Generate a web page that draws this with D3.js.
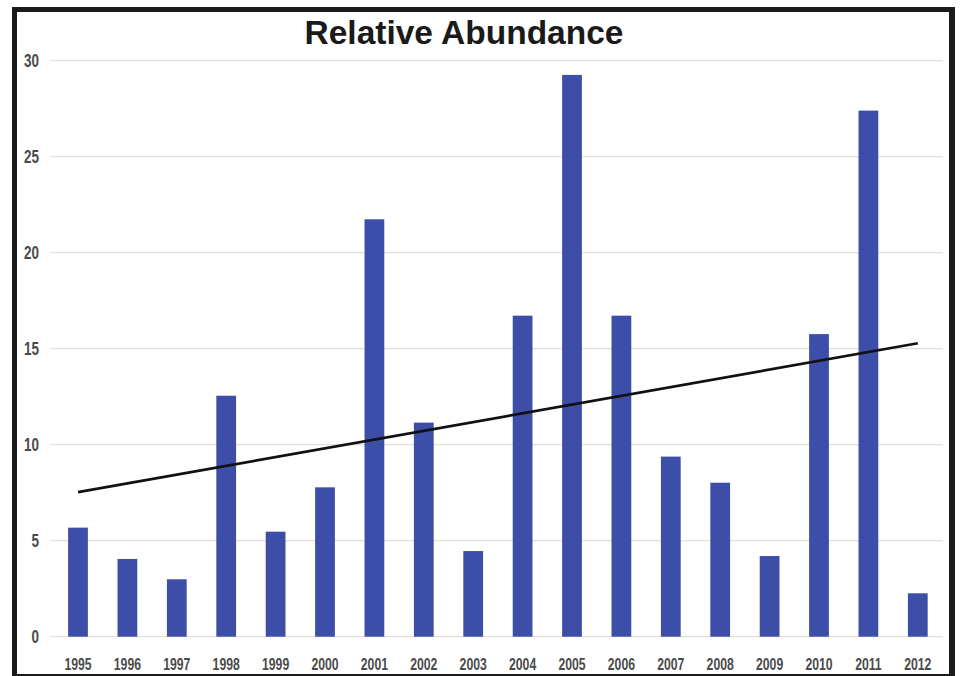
<!DOCTYPE html>
<html>
<head>
<meta charset="utf-8">
<script src="https://cdn.jsdelivr.net/npm/d3@7"></script>
<style>
  body { margin: 0; background: #fff; }
  svg { display: block; }
</style>
</head>
<body>
<div id="chart"></div>
<script>
// data
const years = ["1995", "1996", "1997", "1998", "1999", "2000", "2001", "2002", "2003",
  "2004", "2005", "2006", "2007", "2008", "2009", "2010", "2011", "2012"];
const abundance = [5.68, 4.05, 2.99, 12.55, 5.47, 7.78, 21.74, 11.15, 4.46,
  16.72, 29.26, 16.72, 9.38, 8.02, 4.2, 15.76, 27.4, 2.26];
const yTicks = [0, 5, 10, 15, 20, 25, 30];
// linear trend, value at first and last year
const trendYears = ["1995", "2012"];
const trendValues = [7.53, 15.28];

const width = 966, height = 676;
const labelFont = "'Liberation Sans', Arial, sans-serif";

const svg = d3.select("#chart")
  .append("svg")
  .attr("width", width)
  .attr("height", height);

const x = d3.scaleBand()
  .domain(years)
  .range([53.3, 942.5])
  .paddingInner(0.6)
  .paddingOuter(0.3);

const y = d3.scaleLinear()
  .domain([0, 30])
  .range([636.7, 60.7]);

// gridlines
svg.append("g")
  .selectAll("line")
  .data(yTicks)
  .enter()
  .append("line")
  .attr("x1", 50)
  .attr("x2", 943)
  .attr("y1", d => y(d))
  .attr("y2", d => y(d))
  .attr("stroke", "#e6dedb")
  .attr("stroke-width", 1.3);

// y axis labels (squeezed, like the original's condensed font)
const yAxis = d3.axisLeft(y).tickValues(yTicks).tickSize(0).tickPadding(0);
svg.append("g")
  .attr("transform", "translate(39,0)")
  .call(yAxis)
  .call(g => g.select(".domain").remove())
  .selectAll("text")
  .attr("font-family", labelFont)
  .attr("font-size", 18)
  .attr("font-weight", "bold")
  .attr("fill", "#4a4a4a")
  .attr("transform", "scale(0.75,1)");

// x axis labels
const xAxis = d3.axisBottom(x).tickSize(0).tickPadding(0);
svg.append("g")
  .attr("transform", "translate(0,658)")
  .call(xAxis)
  .call(g => g.select(".domain").remove())
  .selectAll("text")
  .attr("font-family", labelFont)
  .attr("font-size", 17)
  .attr("font-weight", "bold")
  .attr("fill", "#4a4a4a")
  .attr("transform", "scale(0.72,1)");

// bars
svg.append("g")
  .selectAll("rect")
  .data(years)
  .enter()
  .append("rect")
  .attr("x", d => x(d))
  .attr("width", x.bandwidth())
  .attr("y", (d, i) => y(abundance[i]))
  .attr("height", (d, i) => y(0) - y(abundance[i]))
  .attr("fill", "#3c4ea8");

// trend line
const line = d3.line()
  .x(d => x(d[0]) + x.bandwidth() / 2)
  .y(d => y(d[1]));
svg.append("path")
  .datum(trendYears.map((d, i) => [d, trendValues[i]]))
  .attr("d", line)
  .attr("fill", "none")
  .attr("stroke", "#111")
  .attr("stroke-width", 2.6);

// title
svg.append("text")
  .attr("x", 464)
  .attr("y", 44)
  .attr("text-anchor", "middle")
  .attr("font-family", "'Liberation Sans', Arial, sans-serif")
  .attr("font-size", 33.5)
  .attr("font-weight", "bold")
  .attr("fill", "#1a1a1a")
  .text("Relative Abundance");

// frame
svg.append("rect").attr("x", 12).attr("y", 7).attr("width", 943).attr("height", 5).attr("fill", "#1c1a1a");
svg.append("rect").attr("x", 12).attr("y", 7).attr("width", 5).attr("height", 669).attr("fill", "#1c1a1a");
svg.append("rect").attr("x", 949).attr("y", 7).attr("width", 6).attr("height", 669).attr("fill", "#1c1a1a");
svg.append("rect").attr("x", 12).attr("y", 674).attr("width", 943).attr("height", 2).attr("fill", "#1c1a1a");
</script>
</body>
</html>
